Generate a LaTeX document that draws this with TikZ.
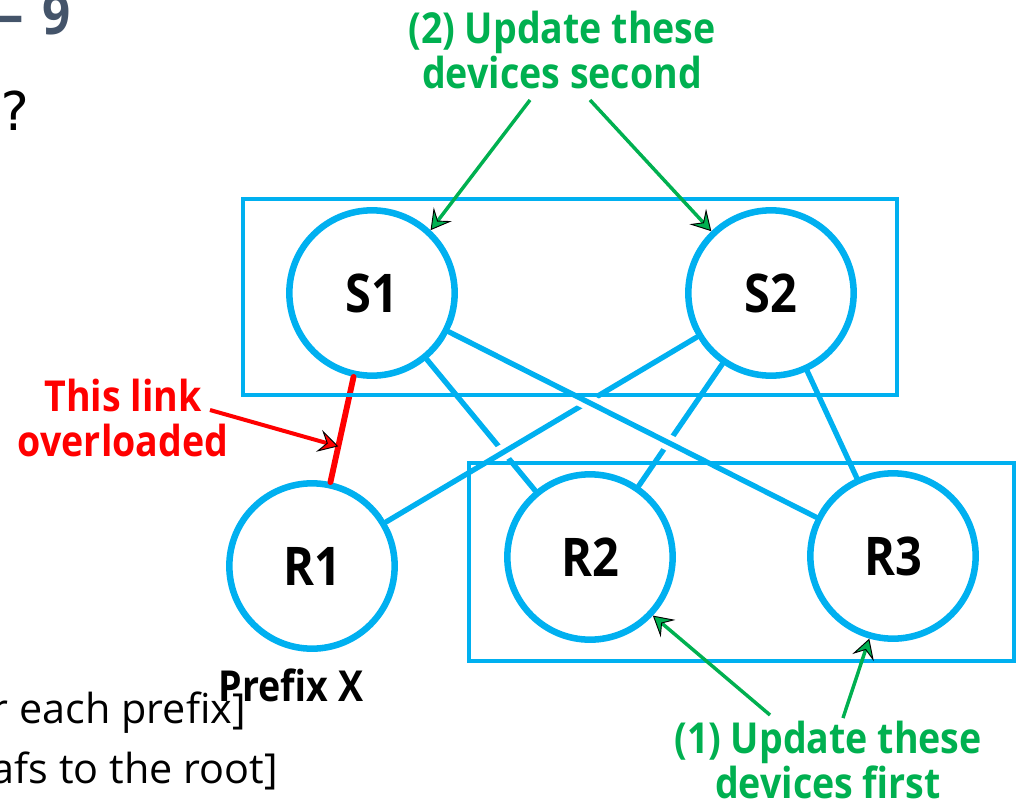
\documentclass[tikz,border=0pt]{standalone}
\usepackage{fontspec}
\setmainfont{Open Sans}
\newfontfamily\labelfont{Open Sans}[FakeStretch=0.88]
\newfontfamily\promptfont{DejaVu Sans Mono}
\usetikzlibrary{arrows.meta}
\definecolor{linkblue}{HTML}{00B0F0}
\definecolor{stepgreen}{HTML}{00B050}
\definecolor{hotred}{HTML}{FF0000}
\definecolor{slate}{HTML}{44546A}

\begin{document}
\begin{tikzpicture}[x=0.75pt,y=-0.75pt,
  device/.style={circle, draw=linkblue, line width=4.9pt, minimum size=124pt,
    inner sep=0pt, font=\labelfont\bfseries\fontsize{40}{44}\selectfont},
  link/.style={draw=linkblue, line width=4pt, line cap=round},
  hoplink/.style={link, preaction={draw=white, line width=12pt, line cap=butt}},
  groupbox/.style={draw=linkblue, line width=2.9pt},
  note/.style={font=\labelfont\bfseries\fontsize{32}{34}\selectfont, align=center, inner sep=0pt},
  greenptr/.style={draw=stepgreen, line width=2.6pt,
    -{Stealth[length=15pt,width=17pt,inset=6pt,color=black,fill=stepgreen,line width=0.7pt]}},
  redptr/.style={draw=hotred, line width=3pt,
    -{Stealth[length=15pt,width=17pt,inset=6pt,color=black,fill=hotred,line width=0.7pt]}},
]
\useasboundingbox (0,0) rectangle (1026,801);

% slide remnants at the edges
\node[anchor=base east, inner sep=0pt, text=slate, font=\labelfont\bfseries\fontsize{42}{44}\selectfont] (title) at (71,34) {—\hspace{14pt}9};
\node[anchor=base west, inner sep=0pt, font=\promptfont\fontsize{40}{44}\selectfont] (qmark) at (-2,130) {?};
\node[anchor=base east, inner sep=0pt, font=\fontsize{31}{36}\selectfont] (bullet1) at (246,723) {r each prefix]};
\node[anchor=base east, inner sep=0pt, font=\fontsize{31}{36}\selectfont] (bullet2) at (278,783) {afs to the root]};

% devices
\node[device] (S1) at (372,293) {S1};
\node[device] (S2) at (771,293) {S2};
\node[device] (R1) at (312,566) {R1};
\node[device] (R2) at (590,557) {R2};
\node[device] (R3) at (893,556) {R3};

% links (later ones hop over earlier ones)
\draw[link] (S1) -- (R2);
\draw[link] (S2) -- (R2);
\draw[link] (S2) -- (R3);
\draw[hoplink] (S2) -- (R1);
\draw[hoplink] (S1) -- (R3);
\draw[draw=hotred, line width=4.4pt, line cap=round] (S1) -- (R1) coordinate[pos=0.66] (hot);

% update groups
\draw[groupbox] (243,199) rectangle (897,395);
\draw[groupbox] (469,463) rectangle (1014,661);

% labels
\node[note, text=stepgreen] (second) at (562,50) {(2) Update these\\devices second};
\node[note, text=hotred] (overload) at (123,418) {This link\\overloaded};
\node[note, text=stepgreen] (first) at (828,760) {(1) Update these\\devices first};
\node[anchor=base, inner sep=0pt, font=\labelfont\bfseries\fontsize{32}{34}\selectfont] (prefix) at (291,701) {Prefix X};

% pointers
\coordinate (t1) at (530,100);
\coordinate (t2) at (590,100);
\coordinate (b1) at (770,715);
\coordinate (b2) at (843,718);
\coordinate (r0) at (210,410);
\draw[greenptr] (t1) -- (S1.47);
\draw[greenptr] (t2) -- (S2.134);
\draw[greenptr] (b1) -- (R2.-43);
\draw[greenptr] (b2) -- (R3.-106);
\draw[redptr] (r0) -- (hot);
\end{tikzpicture}
\end{document}
